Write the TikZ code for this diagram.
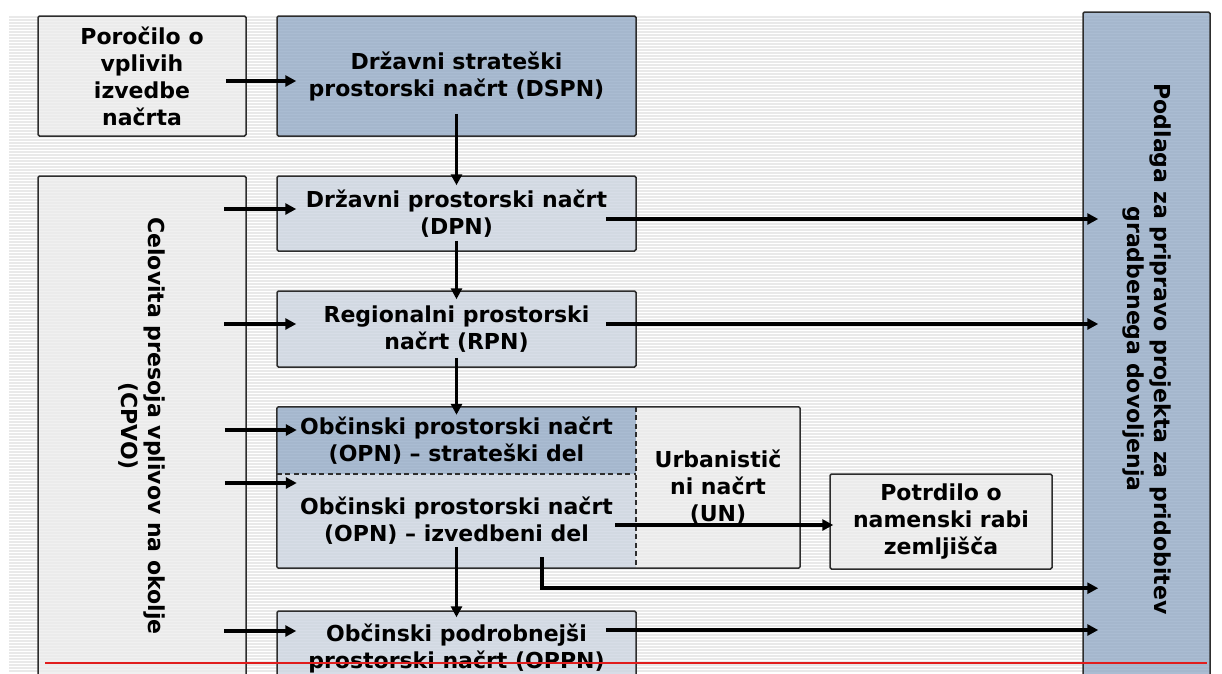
\documentclass[tikz,border=0pt]{standalone}
\usepackage{fontspec}
\setmainfont{DejaVu Sans}
\usetikzlibrary{arrows.meta}
\definecolor{stripe}{RGB}{233,233,233}
\definecolor{boxgray}{RGB}{236,236,236}
\definecolor{boxblue}{RGB}{205,213,225}
\definecolor{darkblue}{RGB}{149,171,199}
\definecolor{rim}{RGB}{45,45,45}
\definecolor{redline}{RGB}{225,30,30}
\begin{document}
\begin{tikzpicture}[x=1pt,y=-1pt,font=\fontsize{22}{27}\selectfont\bfseries,
	cell/.style={inner sep=0pt,align=center,fill opacity=0.8,text opacity=1},
	box/.style={cell,draw=rim,line width=1.5pt,rounded corners=1.5pt},
	arr/.style={line width=3.5pt,-{Triangle[length=11pt,width=11pt]}},
	sep/.style={rim,line width=1.5pt,dash pattern=on 5pt off 3.5pt}]
	\useasboundingbox (0,0) rectangle (1222,673);
	\clip (0,0) rectangle (1222,673);
	\foreach \y in {17,20,...,671}{\draw[stripe,line width=1.5pt] (9,\y)--(1210,\y);}
	% boxes
	\node[box,fill=boxgray,minimum width=208pt,minimum height=120pt] (rep) at (142,76) {Poročilo o\\vplivih\\izvedbe\\načrta};
	\node[box,fill=darkblue,minimum width=359pt,minimum height=120pt] (dspn) at (456.5,76) {Državni strateški\\prostorski načrt (DSPN)};
	\node[box,fill=boxgray,rotate=-90,minimum width=500pt,minimum height=208pt] (cpvo) at (142,426) {Celovita presoja vplivov na okolje\\(CPVO)};
	\node[box,fill=boxblue,minimum width=359pt,minimum height=75pt] (dpn) at (456.5,213.5) {Državni prostorski načrt\\(DPN)};
	\node[box,fill=boxblue,minimum width=359pt,minimum height=76pt] (rpn) at (456.5,329) {Regionalni prostorski\\načrt (RPN)};
	\node[cell,fill=darkblue,minimum width=359pt,minimum height=67pt] (opns) at (456.5,440.5) {Občinski prostorski načrt\\(OPN) – strateški del};
	\node[cell,fill=boxblue,minimum width=359pt,minimum height=94pt] (opni) at (456.5,521) {Občinski prostorski načrt\\(OPN) – izvedbeni del};
	\node[cell,fill=boxgray,minimum width=164pt,minimum height=161pt] (un) at (718,487.5) {Urbanistič\\ni načrt\\(UN)};
	\draw[rim,line width=1.5pt,rounded corners=1.5pt] (opns.north west) rectangle (un.south east);
	\draw[sep] (opns.south west)--(opns.south east);
	\draw[sep] (un.north west)--(un.south west);
	\node[box,fill=boxgray,minimum width=222pt,minimum height=95pt] (pot) at (941,521.5) {Potrdilo o\\namenski rabi\\zemljišča};
	\node[box,fill=boxblue,minimum width=359pt,minimum height=75pt] (oppn) at (456.5,648.5) {Občinski podrobnejši\\prostorski načrt (OPPN)};
	\node[box,fill=darkblue,rotate=-90,minimum width=674pt,minimum height=127pt] (podlaga) at (1146.5,349) {Podlaga za pripravo projekta za pridobitev\\gradbenega dovoljenja};
	\draw[redline,line width=1.2pt] (45,663)--(1207,663);
	% arrows
	\coordinate (tipx) at ([xshift=16pt]podlaga.south);
	\draw[arr] ([xshift=-21pt,yshift=-5pt]rep.east)--([xshift=20pt,yshift=-5pt]dspn.west);
	\draw[arr] ([yshift=23pt]dspn.south)--([yshift=-10pt]dpn.north);
	\draw[arr] ([yshift=11pt]dpn.south)--([yshift=-9pt]rpn.north);
	\draw[arr] ([yshift=10pt]rpn.south)--([yshift=-8pt]opns.north);
	\draw[arr] ([yshift=21pt]opni.south)--([yshift=-7pt]oppn.north);
	\foreach \n/\dy in {dpn/4.5,rpn/5,opns/10.5,opni/38,oppn/17.5}{
		\draw[arr] ([xshift=-52pt,yshift=\dy pt]\n.west)--([xshift=20pt,yshift=\dy pt]\n.west);}
	\foreach \n/\dy in {dpn/-5.5,rpn/5,oppn/18.5}{
		\path ([xshift=-31pt,yshift=\dy pt]\n.east) coordinate (s);
		\draw[arr] (s)--(s -| tipx);}
	\draw[arr] ([xshift=-21pt,yshift=-4pt]opni.east)--([xshift=4pt,yshift=-3.5pt]pot.west);
	\path ([xshift=85.5pt,yshift=11pt]opni.south) coordinate (lstart)
		([xshift=85.5pt,yshift=-20pt]opni.south) coordinate (lbend);
	\draw[arr] (lstart)--(lbend)--(lbend -| tipx);
\end{tikzpicture}
\end{document}
